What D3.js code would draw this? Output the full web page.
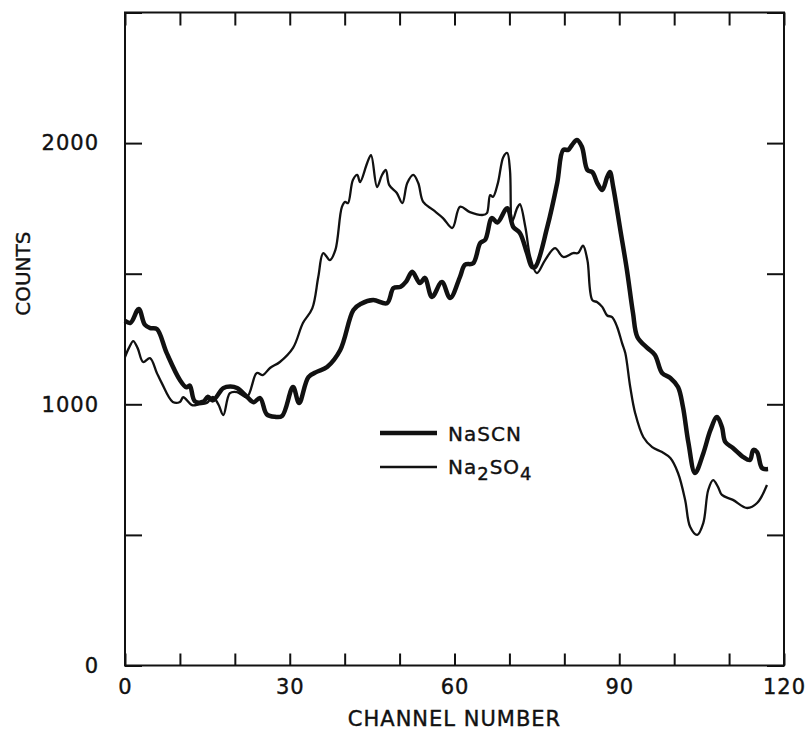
<!DOCTYPE html>
<html>
<head>
<meta charset="utf-8">
<script src="https://cdn.jsdelivr.net/npm/d3@7"></script>
<style>
  body { margin: 0; background: #fff; }
  svg text { font-family: "DejaVu Sans", sans-serif; fill: #111; stroke: #111; stroke-width: 0.4px; }
</style>
</head>
<body>
<svg class="chart" width="805" height="737"></svg>
<script>
// data
const nascnChannel = [0, 1.0, 2.5, 3.6, 4.6, 5.8, 7.6, 10.0, 11.2, 11.8, 12.7, 14.3, 15.1, 16.0, 17.9, 19.2, 20.4, 22.2, 23.4, 24.6, 25.8, 27.3, 28.6, 30.6, 31.7, 33.4, 35.0, 36.8, 39.2, 41.6, 43.0, 45.2, 47.7, 48.9, 50.2, 51.2, 52.3, 53.7, 54.6, 55.9, 57.7, 59.2, 61.0, 61.9, 63.4, 64.7, 65.6, 66.8, 67.8, 69.6, 70.7, 71.9, 73.2, 74.1, 74.7, 76.9, 78.7, 79.8, 80.7, 81.4, 82.3, 83.2, 84.2, 85.1, 86.0, 86.9, 87.8, 88.3, 88.9, 90.2, 91.4, 92.5, 93.3, 95.1, 96.5, 97.8, 99.3, 100.7, 101.6, 102.6, 103.8, 105.3, 106.6, 107.8, 108.7, 109.3, 110.7, 112.6, 113.8, 114.4, 115.1, 116.0, 117.1];
const nascnCounts = [1320, 1312, 1365, 1305, 1292, 1288, 1196, 1093, 1065, 1072, 1012, 1010, 1029, 1015, 1062, 1068, 1062, 1029, 1008, 1024, 962, 952, 955, 1066, 1005, 1104, 1125, 1143, 1208, 1361, 1385, 1399, 1387, 1445, 1450, 1470, 1507, 1464, 1484, 1411, 1468, 1407, 1488, 1534, 1540, 1618, 1630, 1713, 1696, 1751, 1679, 1656, 1579, 1526, 1526, 1679, 1847, 1974, 1974, 1993, 2012, 1986, 1897, 1889, 1847, 1820, 1870, 1889, 1832, 1667, 1514, 1350, 1258, 1216, 1189, 1120, 1101, 1066, 990, 852, 737, 812, 901, 951, 913, 856, 833, 798, 787, 825, 817, 756, 752];

const na2so4Channel = [0, 0.7, 1.5, 2.3, 3.3, 4.55, 5.8, 6.7, 8.7, 10.0, 10.6, 12.2, 13.5, 14.9, 16.0, 17.0, 17.9, 19.1, 20.4, 22.2, 24.0, 25.1, 26.4, 28.2, 30.6, 32.4, 34.1, 35.2, 36.1, 37.3, 38.3, 39.5, 40.1, 40.6, 41.5, 42.3, 42.8, 44.1, 44.8, 45.9, 46.8, 47.5, 48.1, 49.5, 50.5, 51.4, 52.5, 53.4, 54.3, 56.1, 57.9, 59.6, 61.0, 62.8, 65.2, 65.9, 66.5, 67.0, 67.9, 68.9, 69.6, 70.1, 70.5, 71.4, 71.9, 72.9, 73.8, 75.0, 76.5, 78.3, 79.8, 81.6, 82.5, 83.4, 84.2, 85.1, 86.0, 86.9, 87.8, 88.7, 89.6, 90.5, 91.1, 92.0, 92.9, 94.4, 96.0, 97.8, 99.3, 100.7, 102.0, 102.9, 104.2, 105.3, 106.2, 107.1, 108.0, 108.7, 110.7, 113.3, 115.1, 116.9];
const na2so4Counts = [1181, 1215, 1242, 1215, 1162, 1177, 1120, 1081, 1009, 1009, 1027, 997, 1000, 1005, 1028, 1000, 959, 1043, 1047, 1028, 1120, 1112, 1139, 1162, 1216, 1311, 1367, 1488, 1579, 1552, 1590, 1756, 1775, 1770, 1859, 1878, 1851, 1924, 1954, 1832, 1878, 1897, 1840, 1809, 1770, 1847, 1878, 1847, 1775, 1744, 1713, 1675, 1756, 1736, 1725, 1732, 1801, 1794, 1847, 1947, 1962, 1897, 1700, 1751, 1766, 1679, 1564, 1502, 1552, 1598, 1564, 1579, 1579, 1607, 1552, 1399, 1391, 1373, 1340, 1334, 1297, 1235, 1196, 1066, 966, 874, 836, 817, 794, 737, 634, 531, 500, 545, 672, 710, 683, 653, 634, 603, 622, 691];

const xTicks = [0, 10, 20, 30, 40, 50, 60, 70, 80, 90, 100, 110, 120];
const xTickLabels = [0, 30, 60, 90, 120];
const yTicks = [0, 500, 1000, 1500, 2000, 2500];
const yTickLabels = [0, 1000, 2000];

// config
const plotLeft = 125, plotRight = 784, plotTop = 12.5, plotBottom = 665.5;
const labelSize = 21;

const svg = d3.select("svg.chart");

const x = d3.scaleLinear().domain([0, 120]).range([plotLeft, plotRight]);
const y = d3.scaleLinear().domain([0, 2500]).range([plotBottom, plotTop]);

function translate(a, b) {
  return `translate(${a}, ${b})`;
}

function styleTicks(g) {
  g.select(".domain").remove();
  g.selectAll(".tick line").attr("stroke", "#111").attr("stroke-width", 2);
  g.selectAll(".tick text").attr("font-size", labelSize).attr("fill", "#111").style("letter-spacing", "1px");
}

// inward ticks, bottom + top
svg.append("g")
  .attr("transform", translate(0, plotBottom))
  .call(d3.axisBottom(x).tickValues(xTicks).tickSize(-12).tickFormat(""))
  .call(styleTicks);
svg.append("g")
  .attr("transform", translate(0, plotTop))
  .call(d3.axisTop(x).tickValues(xTicks).tickSize(-13).tickFormat(""))
  .call(styleTicks);
svg.append("g")
  .attr("transform", translate(0, plotBottom))
  .call(d3.axisBottom(x).tickValues(xTickLabels).tickSize(0).tickPadding(14).tickFormat(d3.format("d")))
  .call(styleTicks);

// inward ticks, left + right
svg.append("g")
  .attr("transform", translate(plotLeft, 0))
  .call(d3.axisLeft(y).tickValues(yTicks).tickSize(-17).tickFormat(""))
  .call(styleTicks);
svg.append("g")
  .attr("transform", translate(plotRight, 0))
  .call(d3.axisRight(y).tickValues(yTicks).tickSize(-17).tickFormat(""))
  .call(styleTicks);
svg.append("g")
  .attr("transform", translate(plotLeft, 0))
  .call(d3.axisLeft(y).tickValues(yTickLabels).tickSize(0).tickPadding(26).tickFormat(d3.format("d")))
  .call(styleTicks);

// frame
svg.append("rect")
  .attr("x", plotLeft).attr("y", plotTop)
  .attr("width", plotRight - plotLeft).attr("height", plotBottom - plotTop)
  .attr("fill", "none").attr("stroke", "#111").attr("stroke-width", 2);

// axis titles
svg.append("text")
  .attr("x", x(60)).attr("y", 726)
  .attr("text-anchor", "middle").attr("font-size", 21)
  .style("letter-spacing", "1px")
  .text("CHANNEL NUMBER");
svg.append("text")
  .attr("transform", translate(30, y(1500)) + " rotate(-90)")
  .attr("text-anchor", "middle").attr("font-size", 20)
  .text("COUNTS");

// curves
const line = d3.line()
  .x(d => x(d[0]))
  .y(d => y(d[1]))
  .curve(d3.curveCatmullRom.alpha(0.5));

svg.append("path")
  .datum(d3.zip(na2so4Channel, na2so4Counts))
  .attr("fill", "none").attr("stroke", "#111").attr("stroke-width", 2.3)
  .attr("stroke-linejoin", "round")
  .attr("d", line);

svg.append("path")
  .datum(d3.zip(nascnChannel, nascnCounts))
  .attr("fill", "none").attr("stroke", "#111").attr("stroke-width", 4.5)
  .attr("stroke-linejoin", "round")
  .attr("d", line);

// legend
const legend = svg.append("g").attr("transform", translate(380, 433));
legend.append("line").attr("x1", 0).attr("x2", 57).attr("y1", 0).attr("y2", 0)
  .attr("stroke", "#111").attr("stroke-width", 4.5);
legend.append("line").attr("x1", 0).attr("x2", 57).attr("y1", 34).attr("y2", 34)
  .attr("stroke", "#111").attr("stroke-width", 2.3);
legend.append("text").attr("x", 68).attr("y", 8).attr("font-size", 20)
  .style("letter-spacing", "1px").text("NaSCN");
const t2 = legend.append("text").attr("x", 68).attr("y", 41).attr("font-size", 20)
  .style("letter-spacing", "1px");
t2.append("tspan").text("Na");
t2.append("tspan").attr("dy", 6).attr("font-size", 18).text("2");
t2.append("tspan").attr("dy", -6).text("SO");
t2.append("tspan").attr("dy", 6).attr("font-size", 18).text("4");
</script>
</body>
</html>
